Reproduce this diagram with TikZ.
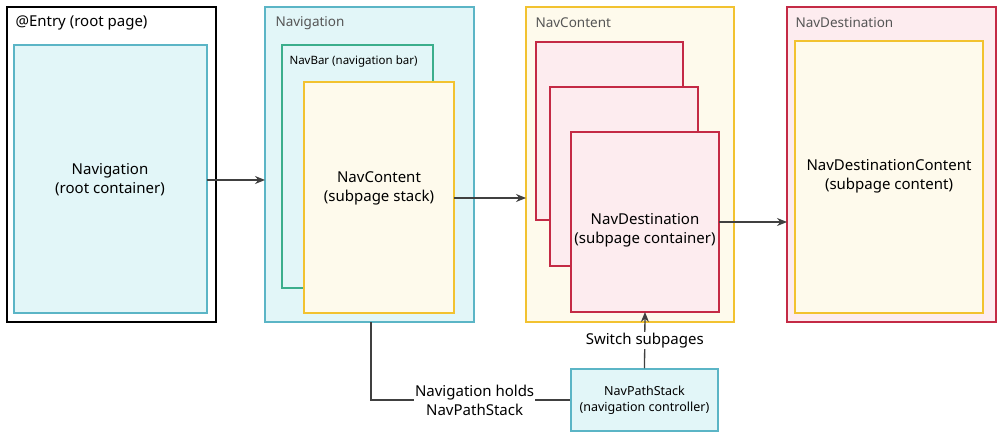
\documentclass[tikz,border=0pt]{standalone}
\usepackage{fontspec}
\setmainfont{Noto Sans}
\usetikzlibrary{arrows.meta}
\definecolor{cyb}{HTML}{5BB5C6}\definecolor{cyf}{HTML}{E2F6F8}
\definecolor{yeb}{HTML}{F2C230}\definecolor{yef}{HTML}{FEFAEC}
\definecolor{reb}{HTML}{C42A45}\definecolor{ref}{HTML}{FDECEF}
\definecolor{grb}{HTML}{3BAE8C}\definecolor{lbl}{HTML}{555555}
\begin{document}
\begin{tikzpicture}[x=1pt,y=-1pt,
 box/.style={draw,line width=1.5pt},
 cy/.style={box,draw=cyb,fill=cyf},
 ye/.style={box,draw=yeb,fill=yef},
 re/.style={box,draw=reb,fill=ref},
 txt/.style={align=center,font=\fontsize{15}{19}\selectfont},
 lab/.style={anchor=west,font=\fontsize{13.5}{16}\selectfont,text=lbl},
 arr/.style={draw=black!75,line width=1.3pt,-{Stealth[length=10pt,width=8pt]}}]
\useasboundingbox (0,0) rectangle (1000,438);
% Entry
\draw[box,draw=black,fill=white] (7,7) rectangle (216,322);
\node[anchor=west,font=\fontsize{15}{18}\selectfont] (el) at (12,23) {@Entry (root page)};
\draw[cy] (14,45) rectangle (207,313);
\node[txt] (nav1) at (110,180) {Navigation\\(root container)};
\coordinate (e1) at (207,180);
% Navigation
\draw[cy] (265,7) rectangle (474,322);
\node[lab] (nl) at (272,23) {Navigation};
\draw[box,draw=grb,fill=cyf] (282,45) rectangle (433,288);
\node[lab,font=\fontsize{11.5}{13}\selectfont,text=black] (nb) at (286,62) {NavBar (navigation bar)};
\draw[ye] (304,82) rectangle (454,313);
\node[txt] (nc1) at (379,188) {NavContent\\(subpage stack)};
\coordinate (n1) at (265,180);
\coordinate (n2) at (454,198);
\coordinate (nb0) at (371,322);
% NavContent
\draw[ye] (526,7) rectangle (734,322);
\node[lab] (cl) at (532,23) {NavContent};
\draw[re] (536,42) rectangle (683,220);
\draw[re] (550,87) rectangle (698,266);
\draw[re] (571,132) rectangle (719,312);
\node[txt] (nd1) at (645,230) {NavDestination\\(subpage container)};
\coordinate (c1) at (526,198);
\coordinate (c2) at (719,222);
\coordinate (c3) at (645,312);
% NavDestination
\draw[re] (787,7) rectangle (996,322);
\node[lab] (dl) at (792,23) {NavDestination};
\draw[ye] (795,41) rectangle (983,313);
\node[txt] (ndc) at (889,176) {NavDestinationContent\\(subpage content)};
\coordinate (d1) at (787,222);
% NavPathStack
\node[cy,minimum width=147pt,minimum height=62pt,txt,font=\fontsize{12.5}{16}\selectfont] (ps) at (644.5,400) {NavPathStack\\(navigation controller)};
% connectors
\draw[arr] (e1) -- (n1);
\draw[arr] (n2) -- (c1);
\draw[arr] (c2) -- (d1);
\draw[arr] (ps.north) -- (c3) node[midway,fill=white,txt,inner sep=1pt] (sw) {Switch subpages};
\draw[draw=black!75,line width=1.3pt] (nb0) |- (ps.west) node[pos=0.76,fill=white,txt,inner sep=1pt] (hl) {Navigation holds\\NavPathStack};
\end{tikzpicture}
\end{document}
